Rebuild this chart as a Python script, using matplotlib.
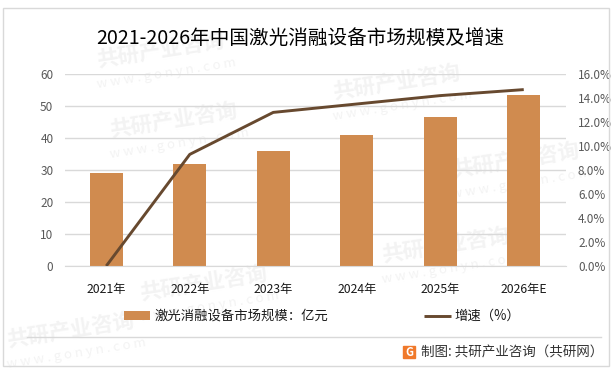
import matplotlib
matplotlib.use("Agg")
import matplotlib.pyplot as plt
from matplotlib.patches import Rectangle
from matplotlib.lines import Line2D

plt.rcParams['font.family'] = ['Noto Sans CJK SC', 'DejaVu Sans']

years = ["2021年", "2022年", "2023年", "2024年", "2025年", "2026年E"]
market = [29, 32, 36, 41, 46.6, 53.4]
growth = [0, 9.3, 12.8, 13.5, 14.2, 14.7]
left_ticks = [0, 10, 20, 30, 40, 50, 60]
right_ticks = [0, 2, 4, 6, 8, 10, 12, 14, 16]

W, H = 612, 372
fig = plt.figure(figsize=(W / 100, H / 100), dpi=100, facecolor="white")


def fx(x):
    return x / W


def fy(y):
    return 1 - y / H


# outer frame and footer rule
fig.add_artist(Rectangle((fx(3.5), fy(365.5)), fx(605), 358 / H, fill=False,
                         edgecolor="#d9d9d9", lw=1, transform=fig.transFigure))
fig.add_artist(Line2D([fx(27), fx(601)], [fy(336.5), fy(336.5)], color="#d9d9d9",
                      lw=1, transform=fig.transFigure))

# watermark
marks = [(173, 120), (396, 82), (203, 283), (445, 245), (70, 330), (515, 160), (160, 50)]
for mx, my in marks:
    fig.text(fx(mx), fy(my), "共研产业咨询", fontsize=15.5, fontweight="bold",
             color="#f3f3f3", rotation=9, ha="center", va="center", zorder=-1)
    fig.text(fx(mx + 6), fy(my + 24), "w w w . g o n y n . c o m", fontsize=9.5,
             color="#f3f3f3", rotation=9, ha="center", va="center", zorder=-1)

ax = fig.add_axes([fx(64.5), fy(266), 501 / W, 192 / H])
ax.patch.set_alpha(0)
x = list(range(len(years)))
bars = ax.bar(x, market, width=0.4, color="#d08b4f", zorder=2,
              label="激光消融设备市场规模：亿元")
ax.set_xlim(-0.5, 5.5)
ax.set_ylim(0, 60)
ax.set_yticks(left_ticks)
ax.set_xticks(x)
ax.set_xticklabels(years, fontsize=8.8, color="#1a1a1a")
ax.tick_params(axis="both", length=0)
ax.tick_params(axis="y", labelsize=8.5, labelcolor="#595959", pad=8)
ax.tick_params(axis="x", pad=12)
ax.grid(axis="y", color="#d9d9d9", lw=1, zorder=1)
ax.set_axisbelow(True)
for s in ["top", "left", "right"]:
    ax.spines[s].set_visible(False)
ax.spines["bottom"].set_color("#d9d9d9")

ax2 = ax.twinx()
ax2.patch.set_alpha(0)
line, = ax2.plot(x, growth, color="#67492f", lw=2.1, zorder=3, label="增速（%）",
                 solid_capstyle="butt")
ax2.set_ylim(0, 16)
ax2.set_yticks(right_ticks)
ax2.set_yticklabels([f"{t:.1f}%" for t in right_ticks])
ax2.tick_params(axis="y", length=0, labelsize=8.5, labelcolor="#595959", pad=9)
for s in ax2.spines.values():
    s.set_visible(False)

fig.text(fx(300), fy(38.5), "2021-2026年中国激光消融设备市场规模及增速", fontsize=14.1,
         color="black", ha="center", va="center")

fig.legend(handles=[bars, line], loc="center", bbox_to_anchor=(fx(322), fy(316)), ncol=2,
           frameon=False, fontsize=9.6, handlelength=2, handleheight=0.6,
           columnspacing=7.2, handletextpad=0.3, labelcolor="#1a1a1a")

# logo and source
fig.add_artist(Rectangle((fx(403), fy(358)), 12 / W, 12 / H, color="#f0792b",
                         transform=fig.transFigure))
fig.text(fx(409), fy(352), "G", fontsize=8, fontweight="bold", color="white",
         ha="center", va="center")
fig.text(fx(421), fy(353), "制图: 共研产业咨询（共研网）", fontsize=9.75, color="#333333",
         ha="left", va="center")

fig.savefig("out.png", dpi=100)
